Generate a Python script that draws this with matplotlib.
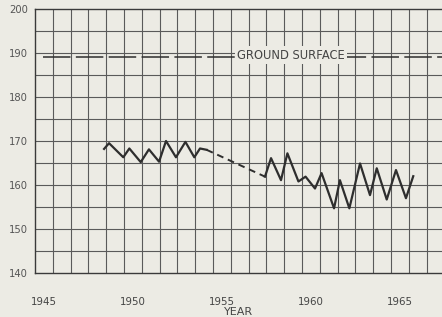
#!/usr/bin/env python3
# -*- coding: utf-8 -*-
"""Groundwater level hydrograph, 1945-1967, with ground surface line."""

import matplotlib.pyplot as plt
import numpy as np

# observed water level (solid) 1948-1954
obs1_year = [1948.88, 1949.16, 1949.96, 1950.30, 1950.94, 1951.40, 1951.97,
             1952.36, 1952.92, 1953.45, 1953.95, 1954.27, 1954.64]
obs1_level = [168.2, 169.5, 166.3, 168.3, 165.2, 168.1, 165.3,
              170.0, 166.3, 169.8, 166.3, 168.3, 168.0]

# inferred (dashed) gap
gap_year = [1954.64, 1957.92]
gap_level = [168.0, 161.9]

# observed water level (solid) 1958-1966
obs2_year = [1957.92, 1958.26, 1958.82, 1959.18, 1959.80, 1960.20, 1960.73,
             1961.10, 1961.80, 1962.13, 1962.66, 1963.26, 1963.82, 1964.20,
             1964.76, 1965.28, 1965.84, 1966.25]
obs2_level = [161.9, 166.1, 161.1, 167.2, 160.8, 161.9, 159.2,
              162.7, 154.7, 161.1, 154.7, 164.9, 157.7, 163.8,
              156.7, 163.4, 157.0, 162.0]

ground_surface = 189.2
y_ticks = [140, 150, 160, 170, 180, 190, 200]
x_labels = [1945, 1950, 1955, 1960, 1965]

BG = "#ecebe4"
INK = "#2e2e2e"
GRID = "#5a5a5a"

fig = plt.figure(figsize=(4.42, 3.17), dpi=100, facecolor=BG)
ax = fig.add_axes([35 / 442, 44 / 317, 407 / 442, 264 / 317], facecolor=BG)
ax.set_xlim(1945, 1945 + 407 / 17.8)
ax.set_ylim(140, 200)

# grid: every year, every 5 ft
for yr in range(1946, 1968):
    ax.axvline(yr, color=GRID, lw=0.8, zorder=1)
for v in range(145, 200, 5):
    ax.axhline(v, color=GRID, lw=0.8, zorder=1)

# small crosses at intersections
gx, gy = np.meshgrid(np.arange(1946, 1968), np.arange(145, 200, 5))
ax.scatter(gx.ravel(), gy.ravel(), marker="+", s=12, color=GRID, lw=0.7, zorder=1)

# ground surface
ax.plot([1945.45, 1968], [ground_surface] * 2, color=INK, lw=1.1,
        dashes=(18, 3.5), zorder=2)
ax.text(1959.38, ground_surface + 0.3, "GROUND SURFACE", fontsize=8.3, color="#444",
        ha="center", va="center", zorder=3,
        bbox=dict(boxstyle="square,pad=0.2", fc=BG, ec="none"))

ax.plot(obs1_year, obs1_level, color=INK, lw=1.6, zorder=4)
ax.plot(gap_year, gap_level, color=INK, lw=1.4, dashes=(3.5, 2.5), zorder=4)
ax.plot(obs2_year, obs2_level, color=INK, lw=1.6, zorder=4)

for side in ["left", "bottom", "top"]:
    ax.spines[side].set_color("#3a3a3a")
    ax.spines[side].set_linewidth(1.0)
ax.spines["right"].set_visible(False)

ax.set_yticks(y_ticks)
ax.set_yticklabels([str(v) for v in y_ticks], fontsize=7.2, color="#555")
ax.set_xticks([y + 0.5 for y in x_labels])
ax.set_xticklabels([str(v) for v in x_labels], fontsize=7.4, color="#444")
ax.tick_params(length=0, pad=5)
ax.tick_params(axis="x", pad=17)
ax.set_xlabel("YEAR", fontsize=8, color="#444", labelpad=0)

fig.savefig("out.png", dpi=100, facecolor=BG)
